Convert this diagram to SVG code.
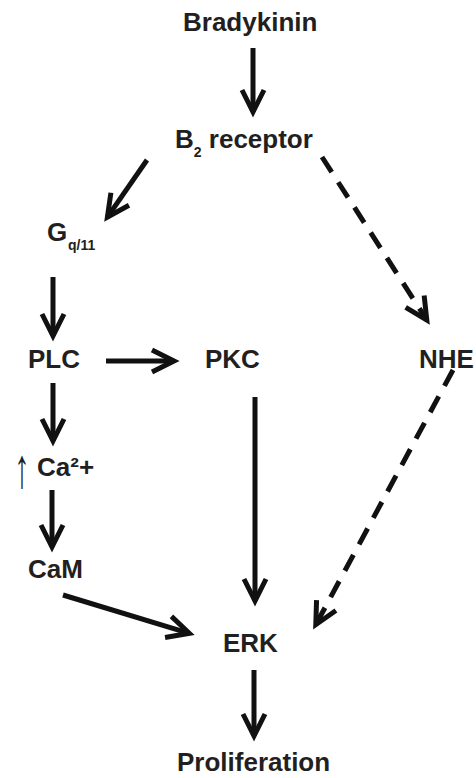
<svg xmlns="http://www.w3.org/2000/svg" width="476" height="778" viewBox="0 0 476 778">
<defs>
<style>
.lbl{font-family:"Liberation Sans",Arial,sans-serif;font-weight:bold;font-size:26px;fill:#231f20}
.sub{font-size:14px}
.up{font-family:"Liberation Sans",Arial,sans-serif;font-weight:normal;font-size:56px;fill:#231f20}
.c{fill:none;stroke:#111;stroke-width:5;marker-end:url(#ah)}
.d{stroke-dasharray:18 12}
</style>
<marker id="ah" markerUnits="userSpaceOnUse" orient="auto" overflow="visible" refX="0" refY="0" markerWidth="1" markerHeight="1">
<path d="M-22,-11 L0,0 L-22,11" fill="none" stroke="#111" stroke-width="5" stroke-miterlimit="10"/>
</marker>
</defs>
<rect width="476" height="778" fill="#fff"/>
<g id="connectors">
<line class="c" x1="253" y1="48" x2="253" y2="112"/>
<line class="c" x1="147" y1="160" x2="107.4" y2="217.1"/>
<line class="c" x1="53" y1="277" x2="53" y2="336"/>
<line class="c" x1="106" y1="361" x2="174" y2="361"/>
<line class="c" x1="53" y1="383" x2="53" y2="441"/>
<line class="c" x1="52" y1="490" x2="52" y2="547"/>
<line class="c" x1="63" y1="595" x2="189.3" y2="633.3"/>
<line class="c" x1="255" y1="397" x2="255" y2="601"/>
<line class="c" x1="254" y1="670" x2="254" y2="736"/>
<line class="c d" x1="322" y1="157" x2="426.8" y2="320"/>
<line class="c d" x1="453" y1="370" x2="315.8" y2="624.7"/>
</g>
<g id="bradykinin"><text class="lbl" x="183" y="31">Bradykinin</text></g>
<g id="b2receptor"><text class="lbl" x="175" y="148">B<tspan class="sub" dy="9">2</tspan><tspan dy="-9"> receptor</tspan></text></g>
<g id="gq11"><text class="lbl" x="47" y="241">G<tspan class="sub" x="68" dy="9">q/11</tspan></text></g>
<g id="plc"><text class="lbl" x="28" y="368">PLC</text></g>
<g id="pkc"><text class="lbl" x="205" y="368">PKC</text></g>
<g id="nhe"><text class="lbl" x="419" y="368">NHE</text></g>
<g id="ca2"><text class="up" transform="translate(22,487) scale(0.55,1)" text-anchor="middle" x="0" y="0">↑</text><text class="lbl" x="37" y="476">Ca²+</text></g>
<g id="cam"><text class="lbl" x="28" y="578">CaM</text></g>
<g id="erk"><text class="lbl" x="223" y="652">ERK</text></g>
<g id="proliferation"><text class="lbl" x="177" y="771">Proliferation</text></g>
</svg>
